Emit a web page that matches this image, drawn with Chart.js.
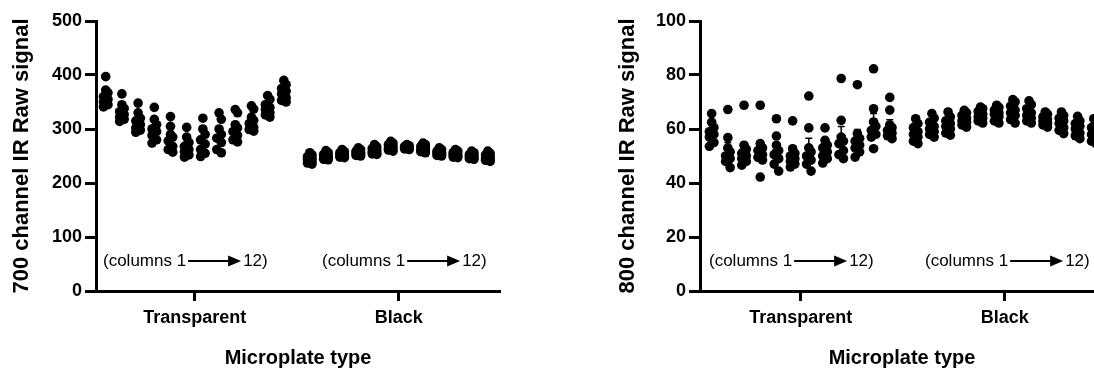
<!DOCTYPE html>
<html>
<head>
<meta charset="utf-8">
<script src="https://cdn.jsdelivr.net/npm/chart.js@4.4.1/dist/chart.umd.min.js"></script>
<style>
  html, body { margin: 0; padding: 0; background: #fff; overflow: hidden; }
  body { width: 1094px; height: 376px; position: relative; }
  canvas { position: absolute; top: 0; }
  #chart700 { left: 0; }
  #chart800 { left: 606px; }
</style>
</head>
<body>
<canvas id="chart700" width="560" height="376"></canvas>
<canvas id="chart800" width="540" height="376"></canvas>
<script>
// categories
const groups = ['Transparent', 'Black'];
const columns = [1, 2, 3, 4, 5, 6, 7, 8, 9, 10, 11, 12];

// 700 channel, 8 wells (rows A-H) per column
const transparent700 = [
    [397, 372, 367, 360, 355, 350, 345, 341],
    [365, 345, 338, 332, 327, 322, 318, 314],
    [348, 330, 320, 315, 308, 302, 298, 294],
    [340, 318, 308, 300, 295, 288, 280, 274],
    [323, 305, 290, 285, 278, 268, 262, 257],
    [303, 285, 275, 268, 262, 258, 252, 248],
    [320, 300, 290, 280, 272, 262, 255, 249],
    [330, 318, 300, 290, 283, 275, 262, 256],
    [336, 330, 308, 302, 295, 288, 280, 276],
    [343, 337, 322, 316, 310, 303, 299, 296],
    [362, 355, 345, 340, 336, 330, 326, 322],
    [390, 382, 375, 370, 365, 358, 353, 350]
];
const black700 = [
    [256, 252, 249, 246, 243, 240, 237, 235],
    [260, 256, 253, 250, 248, 246, 244, 243],
    [262, 258, 256, 253, 251, 249, 248, 247],
    [265, 262, 259, 257, 255, 253, 251, 250],
    [271, 267, 264, 261, 258, 256, 254, 253],
    [277, 274, 271, 268, 265, 263, 261, 259],
    [271, 269, 268, 266, 265, 264, 263, 262],
    [274, 271, 268, 265, 262, 260, 258, 256],
    [265, 262, 259, 257, 255, 253, 251, 250],
    [262, 259, 256, 254, 252, 250, 248, 247],
    [259, 256, 253, 251, 249, 247, 245, 244],
    [259, 255, 252, 249, 246, 244, 242, 240]
];

// 800 channel
const transparent800 = [
    [65.7, 62.5, 60.5, 59, 58, 57, 55, 53.6],
    [67.2, 56.8, 53, 51.5, 50, 49, 48, 45.7],
    [68.8, 54, 52.5, 51, 50, 49, 48, 46.6],
    [68.8, 54.6, 53, 52, 50.5, 49.5, 48.5, 42.2],
    [63.8, 57.4, 54, 52, 50.5, 49, 47, 44.4],
    [63, 52.7, 51, 50, 49, 48, 47, 45.9],
    [72.2, 60.4, 53, 51.5, 50, 48.5, 47, 44.4],
    [60.4, 55.8, 54, 53, 51.5, 50, 49, 47.4],
    [78.7, 63.2, 57, 55.5, 54.6, 52, 50.5, 49],
    [76.4, 58.3, 56.5, 55.5, 54, 53, 51.5, 49.6],
    [82.3, 67.5, 62.6, 61, 59.5, 58, 57, 52.7],
    [71.7, 67, 61.5, 60.5, 59.5, 58.5, 57.5, 56.4]
];
const black800 = [
    [63.8, 62, 60.5, 59, 58, 57, 55.5, 54.6],
    [65.7, 64, 62.5, 61, 60, 59, 58, 57],
    [66.3, 64.5, 63, 62, 61, 60, 58.5, 57.7],
    [66.9, 66, 65, 64, 63, 62.5, 61.5, 60.7],
    [68.1, 67.5, 66.5, 65.5, 64.5, 64, 63, 62.2],
    [68.8, 68, 67, 66, 65.5, 64.5, 63, 62.2],
    [70.9, 70, 68.5, 67, 66, 65, 63.5, 62.2],
    [70.4, 69, 67.5, 66, 65, 64, 63, 62.2],
    [66.3, 65.5, 64.5, 63.5, 63, 62, 61.5, 60.7],
    [66.3, 65, 64, 63, 62, 60.5, 59.5, 58.3],
    [64.7, 63, 62, 61, 60, 58.5, 57.5, 56.4],
    [63.8, 62, 60.5, 59, 58, 57, 55.5, 54.6]
];

const FONT = '"Liberation Sans", Arial, Helvetica, sans-serif';
const BLACK_START = 12.6;   // x position of black column 1 (transparent col 1 = 0)

// spread points that overlap a little sideways, like a scatter dot plot
function dodge(vals, thr, step) {
    const sorted = vals.slice().sort((a, b) => b - a);
    let prev = null, side = 0;
    return sorted.map(v => {
        if (prev !== null && prev - v < thr) side = side === 1 ? -1 : 1;
        else side = 0;
        prev = v;
        return { v, dx: side * step };
    });
}

// mean +/- SEM bars and the "(columns 1 -> 12)" notes
const columnMarks = {
    id: 'columnMarks',
    afterDatasetsDraw(chart, args, opts) {
        const { ctx, chartArea, scales: { x, y } } = chart;
        ctx.save();
        ctx.strokeStyle = '#000';
        ctx.fillStyle = '#000';
        ctx.lineWidth = 1.5;
        opts.series.forEach((series, g) => {
            series.forEach((vals, i) => {
                const n = vals.length;
                const mean = vals.reduce((a, b) => a + b, 0) / n;
                const sd = Math.sqrt(vals.reduce((a, b) => a + (b - mean) ** 2, 0) / (n - 1));
                const sem = sd / Math.sqrt(n);
                const px = x.getPixelForValue(g * BLACK_START + i);
                const pm = y.getPixelForValue(mean);
                const pt = y.getPixelForValue(mean + sem);
                const pb = y.getPixelForValue(mean - sem);
                ctx.beginPath();
                ctx.moveTo(px - 4.5, pm); ctx.lineTo(px + 4.5, pm);
                ctx.moveTo(px, pt); ctx.lineTo(px, pb);
                ctx.moveTo(px - 3.5, pt); ctx.lineTo(px + 3.5, pt);
                ctx.moveTo(px - 3.5, pb); ctx.lineTo(px + 3.5, pb);
                ctx.stroke();
            });
        });

        // notes
        ctx.font = '17px ' + FONT;
        ctx.textBaseline = 'middle';
        ctx.textAlign = 'left';
        ctx.lineWidth = 2;
        const yc = chartArea.bottom - 30;
        opts.noteX.forEach(dx => {
            const x0 = chartArea.left + dx;
            const a = '(columns 1';
            ctx.fillText(a, x0, yc);
            const ax = x0 + ctx.measureText(a).width + 2;
            ctx.beginPath();
            ctx.moveTo(ax, yc); ctx.lineTo(ax + 41, yc);
            ctx.stroke();
            ctx.beginPath();
            ctx.moveTo(ax + 40, yc - 5.5); ctx.lineTo(ax + 53, yc); ctx.lineTo(ax + 40, yc + 5.5);
            ctx.closePath();
            ctx.fill();
            ctx.fillText('12)', ax + 55, yc);
        });
        ctx.restore();
    }
};

function makePanel(id, cfg) {
    const seriesList = [cfg.transparent, cfg.black];
    const thr = cfg.yMax * 0.028;
    const datasets = seriesList.map((series, g) => ({
        label: groups[g],
        data: series.flatMap((vals, i) =>
            dodge(vals, thr, 0.14).map(p => ({ x: g * BLACK_START + i + p.dx, y: p.v }))),
        backgroundColor: '#000',
        borderColor: '#000',
        borderWidth: 0,
        pointRadius: 4.8,
        pointHoverRadius: 4.8
    }));

    return new Chart(document.getElementById(id), {
        type: 'scatter',
        data: { datasets },
        plugins: [columnMarks],
        options: {
            responsive: false,
            animation: false,
            events: [],
            layout: { padding: { top: 21, right: cfg.padRight, bottom: 0, left: 0 } },
            plugins: {
                legend: { display: false },
                tooltip: { enabled: false },
                columnMarks: { series: seriesList, noteX: cfg.noteX }
            },
            scales: {
                x: {
                    type: 'linear',
                    min: cfg.xMin,
                    max: cfg.xMax,
                    afterBuildTicks: axis => {
                        axis.ticks = groups.map((g, k) => ({ value: k * BLACK_START + (columns.length - 1) / 2 }));
                    },
                    afterFit: axis => { axis.height = 85; },
                    grid: { drawOnChartArea: false, drawTicks: true, tickLength: 10, tickWidth: 3, tickColor: '#000' },
                    border: { display: true, width: 3, color: '#000' },
                    ticks: {
                        color: '#000',
                        padding: 6,
                        maxRotation: 0,
                        autoSkip: false,
                        font: { family: FONT, size: 18, weight: 'bold' },
                        callback: (value, index) => groups[index]
                    },
                    title: {
                        display: true,
                        text: 'Microplate type',
                        color: '#000',
                        font: { family: FONT, size: 20, weight: 'bold' },
                        padding: { top: 0, bottom: 6 }
                    }
                },
                y: {
                    min: 0,
                    max: cfg.yMax,
                    afterFit: axis => { axis.width = cfg.yWidth; },
                    grid: { drawOnChartArea: false, drawTicks: true, tickLength: 11, tickWidth: 3, tickColor: '#000' },
                    border: { display: true, width: 3, color: '#000' },
                    ticks: {
                        stepSize: cfg.yStep,
                        color: '#000',
                        padding: 3,
                        font: { family: FONT, size: 18, weight: 'bold' }
                    },
                    title: {
                        display: true,
                        text: cfg.yTitle,
                        color: '#000',
                        font: { family: FONT, size: 22, weight: 'bold' },
                        padding: { top: 9, bottom: 0 }
                    }
                }
            }
        }
    });
}

makePanel('chart700', {
    transparent: transparent700,
    black: black700,
    yMax: 500,
    yStep: 100,
    yTitle: '700 channel IR Raw signal',
    yWidth: 96,
    xMin: -0.6,
    xMax: 24.35,
    padRight: 60,
    noteX: [7, 226]
});

makePanel('chart800', {
    transparent: transparent800,
    black: black800,
    yMax: 100,
    yStep: 20,
    yTitle: '800 channel IR Raw signal',
    yWidth: 94,
    xMin: -0.72,
    xMax: 24.23,
    padRight: 42,
    noteX: [9, 225]
});
</script>
</body>
</html>
